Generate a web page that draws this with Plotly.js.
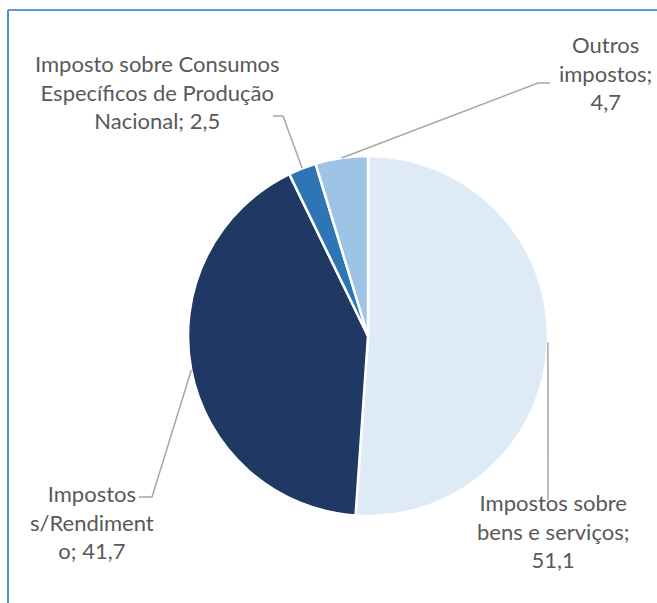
<!DOCTYPE html>
<html>
<head>
<meta charset="utf-8">
<script src="https://cdn.plot.ly/plotly-3.0.1.min.js"></script>
<style>html,body{margin:0;padding:0;background:#fff;}#chart{width:657px;height:603px;}</style>
</head>
<body>
<div id="chart"></div>
<script>
// Data
const categories = ["Impostos sobre bens e serviços", "Impostos s/Rendimento", "Imposto sobre Consumos Específicos de Produção Nacional", "Outros impostos"];
const values = [51.1, 41.7, 2.5, 4.7];
const labelTexts = [
  "Impostos sobre<br>bens e serviços;<br>51,1",
  "Impostos<br>s/Rendiment<br>o; 41,7",
  "Imposto sobre Consumos<br>Específicos de Produção<br>Nacional; 2,5",
  "Outros<br>impostos;<br>4,7"
];
const colors = ["#DEEBF7", "#203864", "#2E75B6", "#9DC3E6"];

// Layout geometry (pixels)
const W = 657, H = 603;
const cx = 368, cy = 336, R = 180;
const px = x => x / W;
const py = y => 1 - y / H;

// label placement (pixel centres) and leader line bends
const labelPos = [[553, 531], [92, 522], [157, 92], [605, 73]];
const leaderBends = [
  [[548, 500]],
  [[152, 497], [139, 497]],
  [[283, 116], [273, 116]],
  [[538, 83], [550, 83]]
];

const total = values.reduce((a, b) => a + b, 0);
const shapes = [];
let cum = 0;
values.forEach((v, i) => {
  const mid = (cum + v / 2) / total * 2 * Math.PI;
  cum += v;
  const sx = cx + R * Math.sin(mid), sy = cy - R * Math.cos(mid);
  const pts = [[sx, sy]].concat(leaderBends[i]);
  let path = "M" + px(pts[0][0]) + "," + py(pts[0][1]);
  for (let k = 1; k < pts.length; k++) path += " L" + px(pts[k][0]) + "," + py(pts[k][1]);
  shapes.push({type: "path", xref: "paper", yref: "paper", path: path,
    line: {color: "#A6A6A6", width: 1.5}});
});
// chart frame
shapes.push({type: "line", xref: "paper", yref: "paper", x0: px(8), x1: px(657), y0: py(10), y1: py(10), line: {color: "#5B9BD5", width: 2}});
shapes.push({type: "line", xref: "paper", yref: "paper", x0: px(8), x1: px(8), y0: py(10), y1: py(603), line: {color: "#4F8FCB", width: 2}});

const annotations = labelTexts.map((t, i) => ({
  text: t, xref: "paper", yref: "paper",
  x: px(labelPos[i][0]), y: py(labelPos[i][1]),
  xanchor: "center", yanchor: "middle", align: "center", showarrow: false,
  font: {family: "Lato, 'Noto Sans', sans-serif", size: 22, color: "#595959"}
}));

const trace = {
  type: "pie", labels: categories, values: values, sort: false,
  direction: "clockwise", rotation: 0,
  marker: {colors: colors, line: {color: "#FFFFFF", width: 2.5}},
  textinfo: "none", hoverinfo: "none",
  domain: {x: [px(cx - R), px(cx + R)], y: [py(cy + R), py(cy - R)]}
};

Plotly.newPlot("chart", [trace], {
  width: W, height: H, margin: {l: 0, r: 0, t: 0, b: 0},
  paper_bgcolor: "#FFFFFF", showlegend: false,
  shapes: shapes, annotations: annotations
}, {staticPlot: true});
</script>
</body>
</html>
